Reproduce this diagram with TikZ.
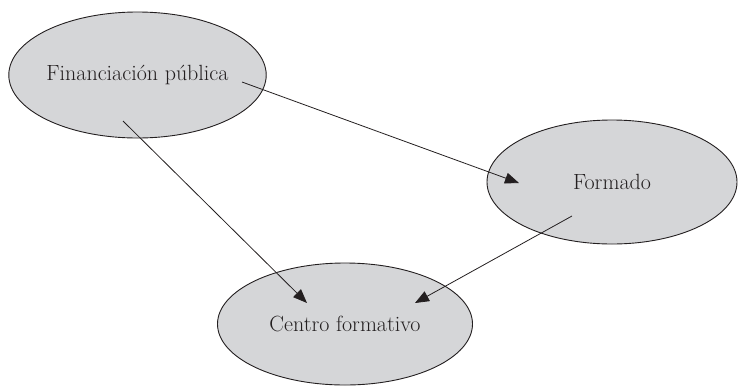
\documentclass[tikz,border=0pt]{standalone}
\usetikzlibrary{shapes.geometric,arrows.meta}
\definecolor{ellfill}{RGB}{213,214,216}
\definecolor{ink}{RGB}{35,31,32}
\tikzset{
  ell/.style={ellipse, draw=ink, line width=0.9pt, fill=ellfill, inner sep=0pt,
    font=\fontsize{22}{26}\selectfont, text=ink},
  conn/.style={draw=ink, line width=0.8pt, -{Triangle[length=14pt,width=11pt]}}
}
\begin{document}
\begin{tikzpicture}[x=1pt,y=-1pt]
\useasboundingbox (0,0) rectangle (738,386);
\node[ell, minimum width=257pt, minimum height=126pt] (fp) at (137.5,75) {Financiación pública};
\node[ell, minimum width=250pt, minimum height=124pt] (fo) at (612,182) {Formado};
\node[ell, minimum width=255pt, minimum height=122pt] (cf) at (345,324) {Centro formativo};
\coordinate (a1s) at (242,82);
\coordinate (a1e) at (519,183);
\coordinate (a2s) at (123,121);
\coordinate (a2e) at (307,303);
\coordinate (a3s) at (572,216);
\coordinate (a3e) at (415,303);
\draw[conn] (a1s) -- (a1e);
\draw[conn] (a2s) -- (a2e);
\draw[conn] (a3s) -- (a3e);
\end{tikzpicture}
\end{document}
